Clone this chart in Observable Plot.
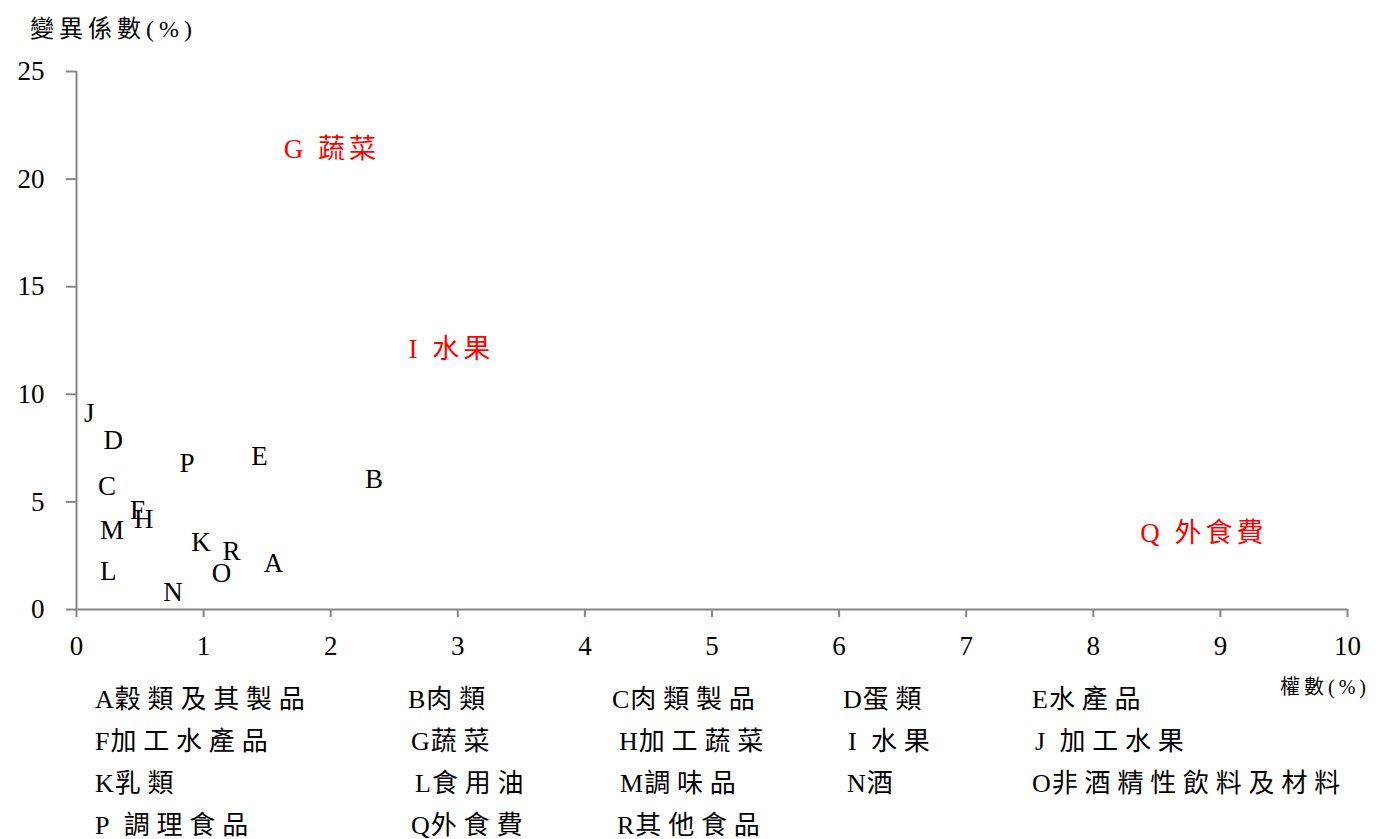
<!DOCTYPE html>
<html><head><meta charset="utf-8">
<script src="https://cdn.jsdelivr.net/npm/d3@7"></script>
<script src="https://cdn.jsdelivr.net/npm/@observablehq/plot@0.6"></script>
<style>
body{margin:0;background:#fff;}
#wrap{position:relative;width:1381px;height:839px;font-family:"Liberation Serif","Noto Sans CJK TC",serif;color:#000;}
#chart{position:absolute;left:0;top:0;}
.ttl{position:absolute;white-space:nowrap;line-height:1;}
.leg{position:absolute;white-space:nowrap;font-size:26px;letter-spacing:6.8px;line-height:1;transform:translateY(-50%);}
.leg .lead{letter-spacing:1px;}
</style></head>
<body><div id="wrap"><div id="chart"></div></div>
<script>
// data
const codes   = ["A","B","C","D","E","F","G","H","I","J","K","L","M","N","O","P","Q","R"];
const names   = ["穀類及其製品","肉類","肉類製品","蛋類","水產品","加工水產品","蔬菜","加工蔬菜","水果","加工水果","乳類","食用油","調味品","酒","非酒精性飲料及材料","調理食品","外食費","其他食品"];
const weights = [1.55,2.34,0.24,0.29,1.44,0.48,2.01,0.53,2.95,0.10,0.98,0.25,0.28,0.76,1.14,0.87,8.87,1.22];
const cvs     = [2.14,6.04,5.72,7.85,7.11,4.60,21.4,4.20,12.08,9.10,3.11,1.77,3.67,0.79,1.67,6.78,3.53,2.70];
const highlighted = ["G","I","Q"];
const xTicks = [0,1,2,3,4,5,6,7,8,9,10];
const yTicks = [0,5,10,15,20,25];
const yTitle = "變異係數(%)";
const xTitle = "權數(%)";
const legendLabels = [
  ["A穀類及其製品","B肉類","C肉類製品","D蛋類","E水產品"],
  ["F加工水產品","G蔬菜","H加工蔬菜","I 水果","J 加工水果"],
  ["K乳類","L食用油","M調味品","N酒","O非酒精性飲料及材料"],
  ["P 調理食品","Q外食費","R其他食品"]
];

const data = codes.map((c,i)=>({
  code:c, w:weights[i], cv:cvs[i],
  hi: highlighted.includes(c),
  label: highlighted.includes(c) ? c + " " + names[i] : c
}));

const axisGray = "#868686";
const font = "Liberation Serif, Noto Sans CJK TC, serif";

const plot = Plot.plot({
  width:1381, height:680,
  marginTop:71, marginLeft:76, marginRight:34, marginBottom:71,
  style:{fontFamily:font, fontSize:"26px", color:"#000", background:"transparent"},
  x:{domain:[0,10]},
  y:{domain:[0,25]},
  marks:[
    Plot.axisY({ticks:yTicks, tickSize:10, tickPadding:22, stroke:axisGray, strokeWidth:2, fill:"#000", fontSize:27, label:null, tickFormat:d=>String(d)}),
    Plot.axisX({ticks:xTicks, tickSize:8, tickPadding:18, stroke:axisGray, strokeWidth:2, fill:"#000", fontSize:27, label:null, tickFormat:d=>String(d)}),
    Plot.ruleX([0],{stroke:axisGray, strokeWidth:2}),
    Plot.ruleY([0],{stroke:axisGray, strokeWidth:2}),
    Plot.text(data.filter(d=>!d.hi),{x:"w", y:"cv", text:"label", fill:"#000", fontSize:27, fontFamily:font}),
    Plot.text(data.filter(d=>d.hi),{x:"w", y:"cv", text:"label", fill:"#ff0000", fontSize:27, fontFamily:font, letterSpacing:4})
  ]
});
document.getElementById("chart").appendChild(plot);
// letter spacing on red labels (attribute fallback)
d3.select(plot).selectAll("text").filter(function(){return this.getAttribute("fill")==="#ff0000" || (this.parentNode && this.parentNode.getAttribute("fill")==="#ff0000");}).style("letter-spacing","4px");

const wrap = document.getElementById("wrap");
function addDiv(cls, txt, css){
  const d = document.createElement("div");
  d.className = cls; d.textContent = txt; Object.assign(d.style, css);
  wrap.appendChild(d); return d;
}
addDiv("ttl", yTitle, {left:"30px", top:"17px", fontSize:"24px", letterSpacing:"5px"});
addDiv("ttl", xTitle, {left:"1280px", top:"677px", fontSize:"20px", letterSpacing:"4px"});

const colX = [[95,408,612,843,1032],[95,411,619,848,1035],[95,415,620,847,1032],[95,411,617]];
const rowY = [700,742,784,826];
legendLabels.forEach((row,r)=>row.forEach((t,c)=>{
  const d = document.createElement("div");
  d.className = "leg";
  d.style.left = colX[r][c]+"px"; d.style.top = rowY[r]+"px";
  const lead = document.createElement("span");
  lead.className = "lead"; lead.textContent = t[0];
  d.appendChild(lead);
  d.appendChild(document.createTextNode(t.slice(1)));
  wrap.appendChild(d);
}));
</script></body></html>
